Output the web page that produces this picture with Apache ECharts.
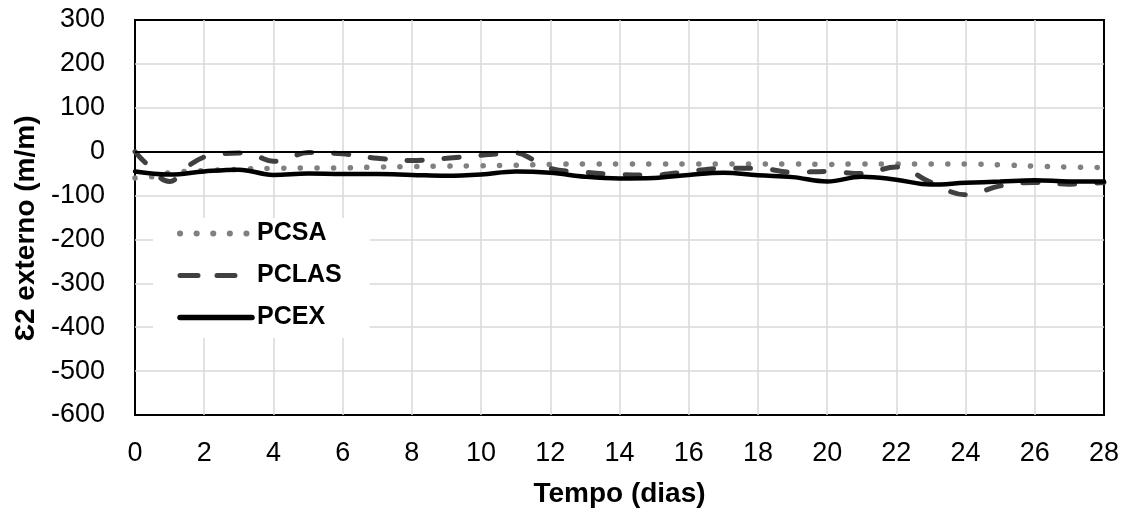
<!DOCTYPE html>
<html><head><meta charset="utf-8">
<script src="https://cdn.jsdelivr.net/npm/echarts@6/dist/echarts.min.js"></script>
<style>html,body{margin:0;padding:0;background:#fff}#c{width:1131px;height:514px}</style>
</head><body><div id="c"></div>
<script>
const xTicks = [0,2,4,6,8,10,12,14,16,18,20,22,24,26,28];
const yTicks = [-600,-500,-400,-300,-200,-100,0,100,200,300];

const pcsaDays = [0,0.5,1,1.5,2,3,4,5,6,7,8,9,10,11,12,13,14,15,16,17,18,19,20,21,22,23,24,25,26,27,28];
const pcsaVals = [-60,-57,-48,-45,-43,-40,-38,-37,-37,-35,-34,-33,-32,-31,-29,-28,-28,-28,-28,-28,-28,-28,-29,-28,-28,-28,-28,-30,-33,-35,-36];

const pclasDays = [0,0.3,1,1.5,2,2.5,3,3.5,4,4.5,5,6,7,8,9,10,10.5,11,11.5,12,13,14,15,16,17,18,19,20,21,22,23,24,25,26,27,28];
const pclasVals = [0,-25,-68,-35,-12,-5,-3,-10,-22,-12,-2,-5,-15,-20,-15,-8,-5,-3,-18,-38,-47,-52,-53,-45,-38,-38,-47,-45,-50,-35,-70,-98,-78,-70,-74,-70];

const pcexDays = [0,1,2,3,4,5,6,7,8,9,10,11,12,13,14,15,16,17,18,19,20,21,22,23,24,25,26,27,28];
const pcexVals = [-45,-52,-45,-41,-53,-50,-51,-51,-53,-55,-52,-45,-48,-57,-61,-60,-53,-48,-54,-58,-68,-57,-64,-75,-71,-68,-65,-68,-68];

const zip = (a,b) => a.map((d,i)=>[d,b[i]]);
const FONT = '"Liberation Sans", Arial, sans-serif';

const chart = echarts.init(document.getElementById('c'), null, {renderer:'canvas'});
chart.setOption({
  animation:false,
  backgroundColor:'#fff',
  grid:{left:135,right:27,top:20,bottom:99,show:true,borderColor:'#000',borderWidth:2,backgroundColor:'transparent'},
  legend:{
    orient:'vertical', left:153, top:218,
    backgroundColor:'#fff', padding:[3,28,8,24],
    itemWidth:72, itemHeight:14, itemGap:17,
    textStyle:{fontFamily:FONT,fontSize:25,fontWeight:'bold',color:'#000',lineHeight:25},
    data:[
      {name:'PCSA',itemStyle:{opacity:0},lineStyle:{color:'#808080',width:6,type:[0.1,16.5],cap:'round'}},
      {name:'PCLAS',itemStyle:{opacity:0},lineStyle:{color:'#404040',width:5,type:[18,19],cap:'round'}},
      {name:'PCEX',itemStyle:{opacity:0},lineStyle:{color:'#000',width:5.5,cap:'round'}}
    ]
  },
  xAxis:{
    type:'value', min:0, max:28, interval:2,
    name:'Tempo (dias)', nameLocation:'middle', nameGap:65,
    nameTextStyle:{fontFamily:FONT,fontSize:28,fontWeight:'bold',color:'#000'},
    axisLine:{show:false}, axisTick:{show:false},
    axisLabel:{fontFamily:FONT,fontSize:27,color:'#000',margin:25,
      formatter:v=>xTicks.includes(v)?String(v):''},
    splitLine:{show:true,showMinLine:false,showMaxLine:false,lineStyle:{color:'#d9d9d9',width:1.5}}
  },
  yAxis:{
    type:'value', min:-600, max:300, interval:100,
    name:'Ɛ2 externo (m/m)', nameLocation:'middle', nameGap:93, nameRotate:90,
    nameTextStyle:{fontFamily:FONT,fontSize:28,fontWeight:'bold',color:'#000',padding:[0,22,0,0]},
    axisLine:{show:false}, axisTick:{show:false},
    axisLabel:{fontFamily:FONT,fontSize:27,color:'#000',margin:30,
      formatter:v=>yTicks.includes(v)?String(v):''},
    splitLine:{show:true,showMinLine:false,showMaxLine:false,lineStyle:{color:'#d9d9d9',width:1.5}}
  },
  series:[
    {name:'PCSA',type:'line',data:zip(pcsaDays,pcsaVals),smooth:0.4,symbol:'none',z:3,
      lineStyle:{color:'#808080',width:5.5,type:[0.1,16.5],cap:'round'},
      itemStyle:{color:'#808080'},
      markLine:{silent:true,symbol:'none',label:{show:false},
        lineStyle:{color:'#000',width:2,type:'solid'},data:[{yAxis:0}]}},
    {name:'PCLAS',type:'line',data:zip(pclasDays,pclasVals),smooth:0.4,symbol:'none',z:4,
      lineStyle:{color:'#404040',width:5,type:[15,22],cap:'round'},
      itemStyle:{color:'#404040'}},
    {name:'PCEX',type:'line',data:zip(pcexDays,pcexVals),smooth:0.4,symbol:'none',z:5,
      lineStyle:{color:'#000',width:4.5,cap:'round'},
      itemStyle:{color:'#000'}}
  ]
});
</script></body></html>
